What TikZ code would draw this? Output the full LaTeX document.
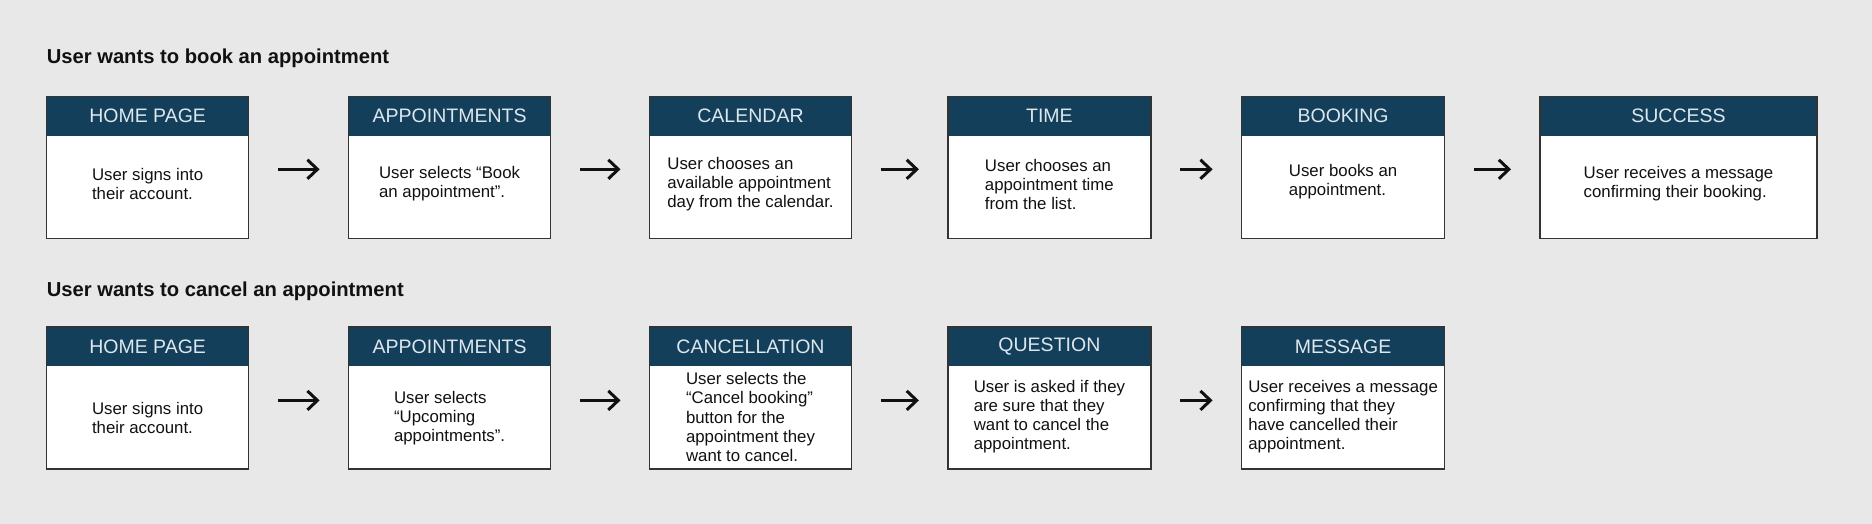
\documentclass[tikz,border=0pt]{standalone}
\usepackage{fontspec}
\setmainfont{Liberation Sans}
\usetikzlibrary{arrows.meta}
\definecolor{bg}{HTML}{E8E8E8}
\definecolor{navy}{HTML}{143F5B}
\definecolor{hdtext}{HTML}{DDE7EE}
\definecolor{edge}{HTML}{333333}
\definecolor{ink}{HTML}{111111}
\newcommand\mycard[7]{%
  \node[card, minimum width=#4pt] (#1) at (#2,#3) {};
  \fill[navy] (#1.north west) rectangle ([yshift=-39pt]#1.north east);
  \draw[edge, line width=1.2pt] (#1.north west) rectangle (#1.south east);
  \node[hdr] (#1h) at ([yshift=-19.5pt]#1.north) {#5};
  \node[body] (#1t) at ([yshift=-#7pt]#1.north) {#6};
}
\begin{document}
\begin{tikzpicture}[x=1pt,y=-1pt,
  card/.style={fill=white, inner sep=0pt, outer sep=0pt, minimum height=142pt, anchor=north west},
  hdr/.style={text=hdtext, font=\fontsize{19.5}{22}\selectfont, inner sep=0pt},
  body/.style={text=ink, align=left, font=\fontsize{16.8}{19.1}\selectfont, inner sep=0pt},
  title/.style={text=ink, font=\bfseries\fontsize{20.2}{23}\selectfont, inner sep=0pt, anchor=base west},
  arr/.style={draw=ink, line width=3pt, -{Straight Barb[length=10pt,width=19pt]}, shorten <=29pt, shorten >=29pt}]
\fill[bg] (0,0) rectangle (1872,524);
\useasboundingbox (0,0) rectangle (1872,524);

\node[title] (t1) at (46.6,63.3) {User wants to book an appointment};
\node[title] (t2) at (46.6,296) {User wants to cancel an appointment};

% Row 1
\mycard{a1}{46.6}{96.7}{202}{HOME PAGE}{User signs into\\their account.}{87.4}
\mycard{a2}{348.6}{96.7}{202}{APPOINTMENTS}{User selects “Book\\an appointment”.}{87.4}
\mycard{a3}{649.5}{96.7}{202}{CALENDAR}{User chooses an\\available appointment\\day from the calendar.}{87.4}
\mycard{a4}{947.9}{96.7}{203}{TIME}{User chooses an\\appointment time\\from the list.}{87.4}
\mycard{a5}{1241.6}{96.7}{203}{BOOKING}{User books an\\appointment.}{85.4}
\mycard{a6}{1540}{96.7}{277}{SUCCESS}{User receives a message\\confirming their booking.}{87.4}

% Row 2
\mycard{b1}{46.6}{327}{202}{HOME PAGE}{User signs into\\their account.}{91.4}
\mycard{b2}{348.6}{327}{202}{APPOINTMENTS}{User selects\\“Upcoming\\appointments”.}{91.4}
\mycard{b3}{649.5}{327}{202}{CANCELLATION}{User selects the\\“Cancel booking”\\button for the\\appointment they\\want to cancel.}{90}
\mycard{b4}{947.9}{327}{203}{QUESTION}{User is asked if they\\are sure that they\\want to cancel the\\appointment.}{89.4}
\mycard{b5}{1241.6}{327}{203}{MESSAGE}{User receives a message\\confirming that they\\have cancelled their\\appointment.}{89.4}

\draw[arr] ([yshift=-1.6pt]a1.east) -- ([yshift=-1.6pt]a2.west);
\draw[arr] ([yshift=-1.6pt]a2.east) -- ([yshift=-1.6pt]a3.west);
\draw[arr] ([yshift=-1.6pt]a3.east) -- ([yshift=-1.6pt]a4.west);
\draw[arr] ([yshift=-1.6pt]a4.east) -- ([yshift=-1.6pt]a5.west);
\draw[arr] ([yshift=-1.6pt]a5.east) -- ([yshift=-1.6pt]a6.west);
\draw[arr] ([yshift=-2.4pt]b1.east) -- ([yshift=-2.4pt]b2.west);
\draw[arr] ([yshift=-2.4pt]b2.east) -- ([yshift=-2.4pt]b3.west);
\draw[arr] ([yshift=-2.4pt]b3.east) -- ([yshift=-2.4pt]b4.west);
\draw[arr] ([yshift=-2.4pt]b4.east) -- ([yshift=-2.4pt]b5.west);
\end{tikzpicture}
\end{document}
